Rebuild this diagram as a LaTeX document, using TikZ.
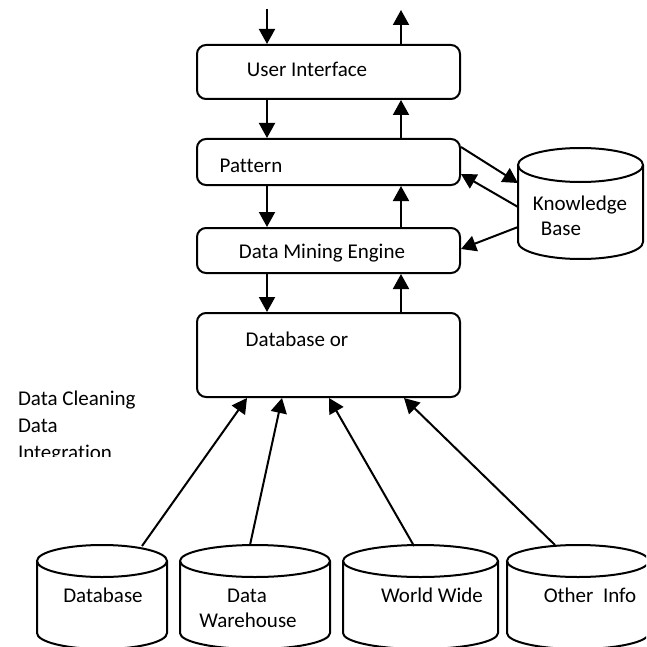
\documentclass[tikz,border=0pt]{standalone}
\usepackage{fontspec}
\setmainfont[Ligatures=NoCommon]{Carlito}
\usetikzlibrary{arrows.meta}
\newcommand\drawcyl[5]{%
  \draw (#1-#4,#2) -- (#1-#4,#3) arc[start angle=180,end angle=0,x radius=#4,y radius=#5] -- (#1+#4,#2);
  \draw (#1,#2) ellipse[x radius=#4,y radius=#5];}
\begin{document}
\begin{tikzpicture}[x=1pt,y=-1pt,
  line width=2pt,
  box/.style={draw, rounded corners=9pt, minimum width=263pt, inner sep=0pt},
  arr/.style={-{Triangle[width=16pt,length=15pt]}},
  lbl/.style={anchor=base, inner sep=0pt, font=\fontsize{21}{25}\selectfont}]
\useasboundingbox (0,0) rectangle (646,647);
\clip (0,0) rectangle (646,647);
% boxes
\node[box, minimum height=54pt] (ui) at (328.5,72) {};
\node[box, minimum height=46pt] (pat) at (328.5,162) {};
\node[box, minimum height=45pt] (dme) at (328.5,250.5) {};
\node[box, minimum height=84pt] (dbx) at (328.5,355) {};
\node[lbl] (tui) at (307,77) {User Interface};
\node[lbl] (tpat) at (251,172) {Pattern};
\node[lbl] (tdme) at (322,258) {Data Mining Engine};
\node[lbl] (tdbx) at (297,346) {Database or};
% vertical arrows
\coordinate (L) at (267,0);
\coordinate (R) at (401,0);
\coordinate (topin) at (267,9);
\coordinate (topout) at (401,10);
\draw[arr] (topin) -- (ui.north -| L);
\draw[arr] (ui.north -| R) -- (topout);
\draw[arr] (ui.south -| L) -- (pat.north -| L);
\draw[arr] (pat.north -| R) -- (ui.south -| R);
\draw[arr] (pat.south -| L) -- (dme.north -| L);
\draw[arr] (dme.north -| R) -- (pat.south -| R);
\draw[arr] (dme.south -| L) -- (dbx.north -| L);
\draw[arr] (dbx.north -| R) -- (dme.south -| R);
% knowledge base
\drawcyl{580.5}{165}{242}{62.5}{17}
\node[lbl] (tkb1) at (580,210) {Knowledge};
\node[lbl] (tkb2) at (561,235) {Base};
\coordinate (kb1) at (518,183);
\coordinate (kb2) at (518,207);
\coordinate (kb3) at (518,227);
\draw[arr] ([yshift=-9pt]pat.north east) -- (kb1);
\draw[arr] (kb2) -- ([yshift=-36pt]pat.north east);
\draw[arr] (kb3) -- ([yshift=-22pt]dme.north east);
% left text
\begin{scope}
\clip (0,370) rectangle (200,456);
\node[lbl, anchor=base west] (tl1) at (17,405) {Data Cleaning};
\node[lbl, anchor=base west] (tl2) at (17,432) {Data};
\node[lbl, anchor=base west] (tl3) at (17,459) {Integration};
\end{scope}
% source cylinders
\drawcyl{102}{561}{633}{65}{16}
\drawcyl{255}{561}{633}{75}{16}
\drawcyl{420.5}{561}{633}{77.5}{16}
\drawcyl{578}{561}{633}{71}{16}
\node[lbl] (tdb) at (103,602) {Database};
\node[lbl] (tdw1) at (247,602) {Data};
\node[lbl] (tdw2) at (248,627) {Warehouse};
\node[lbl] (tww) at (432,602) {World Wide};
\node[lbl] (toi) at (590,602) {Other~ Info};
\coordinate (s1) at (142,546);
\coordinate (s2) at (250,545);
\coordinate (s3) at (414,546);
\coordinate (s4) at (555,545);
\draw[arr] (s1) -- ([xshift=51pt]dbx.south west);
\draw[arr] (s2) -- ([xshift=86pt]dbx.south west);
\draw[arr] (s3) -- ([xshift=133pt]dbx.south west);
\draw[arr] (s4) -- ([xshift=208pt]dbx.south west);
\end{tikzpicture}
\end{document}
